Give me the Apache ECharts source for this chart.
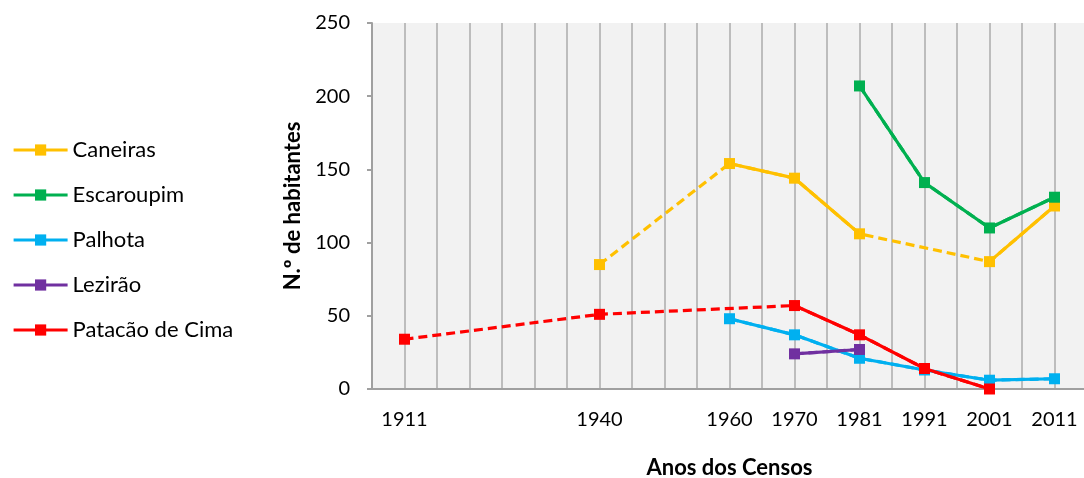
<!DOCTYPE html>
<html>
<head>
<meta charset="utf-8">
<script src="https://cdn.jsdelivr.net/npm/echarts@6/dist/echarts.min.js"></script>
<style>
  html, body { margin: 0; padding: 0; background: #fff; }
  #chart { width: 1084px; height: 478px; }
</style>
</head>
<body>
<div id="chart"></div>
<script>
// census years (one category per slot on the axis) and the labels shown under them
const years = ['1911', '1920', '1930', '1940', '1950', '1960', '1970', '1981', '1991', '2001', '2011']
const tickLabels = ['1911', '', '', '1940', '', '1960', '1970', '1981', '1991', '2001', '2011']

const names = ['Caneiras', 'Escaroupim', 'Palhota', 'Lezirão', 'Patacão de Cima']
const colors = ['#ffc000', '#00b050', '#00b0f0', '#7030a0', '#ff0000']

const caneiras   = [null, null, null, 85, null, 154, 144, 106, null, 87, 125]
const escaroupim = [null, null, null, null, null, null, null, 207, 141, 110, 131]
const palhota    = [null, null, null, null, null, 48, 37, 21, 13, 6, 7]
const lezirao    = [null, null, null, null, null, null, 24, 27, null, null, null]
const patacao    = [34, null, null, 51, null, null, 57, 37, 14, 0, null]

const values = [caneiras, escaroupim, palhota, lezirao, patacao]
const font = 'Lato'

// solid lines between consecutive censuses, dashed where a census is missing
const solid = names.map((name, i) => ({
  name, type: 'line', data: values[i], connectNulls: false,
  symbol: 'rect', symbolSize: 11, z: 3,
  lineStyle: { width: 3.2, color: colors[i] },
  itemStyle: { color: colors[i] },
}))
const dashed = names.map((name, i) => ({
  name, type: 'line', data: values[i], connectNulls: true,
  symbol: 'none', showSymbol: false, z: 2,
  lineStyle: { width: 3.2, color: colors[i], type: [9, 5] },
  itemStyle: { color: colors[i] },
}))

const chart = echarts.init(document.getElementById('chart'))
chart.setOption({
  animation: false,
  legend: {
    data: names, orient: 'vertical', left: 12, top: 139, padding: 0,
    itemWidth: 54, itemHeight: 14, itemGap: 23,
    textStyle: { fontFamily: font, fontSize: 22, color: '#000' },
    lineStyle: { type: 'solid', width: 3.2 },
  },
  grid: {
    left: 372, top: 23, width: 715, height: 366, outerBoundsMode: 'none',
    show: true, backgroundColor: '#f2f2f2', borderWidth: 0,
  },
  xAxis: [
    {
      type: 'category', data: years, boundaryGap: true,
      name: 'Anos dos Censos', nameLocation: 'middle', nameGap: 68,
      nameTextStyle: { fontFamily: font, fontSize: 22, fontWeight: 'bold', color: '#000' },
      axisLine: { lineStyle: { color: '#a0a0a0', width: 2 } },
      axisTick: { interval: 0, length: 6, lineStyle: { color: '#a0a0a0', width: 2 } },
      axisLabel: {
        interval: 0, margin: 21, fontFamily: font, fontSize: 20, color: '#000',
        formatter: (v, i) => tickLabels[i],
      },
      splitLine: { show: false },
    },
    {
      // finer slots, only used for the vertical grid lines
      type: 'category', position: 'top', boundaryGap: true,
      data: Array.from({ length: years.length * 2 }, (_, i) => i),
      axisLine: { show: false }, axisTick: { show: false }, axisLabel: { show: false },
      splitLine: { show: true, interval: 0, lineStyle: { color: '#bdbdbd', width: 2 } },
    },
  ],
  yAxis: {
    type: 'value', min: 0, max: 250, interval: 50,
    name: 'N.º de habitantes', nameLocation: 'middle', nameRotate: 90, nameGap: 66,
    nameTextStyle: { fontFamily: font, fontSize: 22, fontWeight: 'bold', color: '#000' },
    axisLine: { show: true, lineStyle: { color: '#a0a0a0', width: 2 } },
    axisTick: { show: true, length: 5, lineStyle: { color: '#a0a0a0', width: 2 } },
    axisLabel: { margin: 22, fontFamily: font, fontSize: 20, color: '#000' },
    splitLine: { show: false },
  },
  series: [...solid, ...dashed],
})
</script>
</body>
</html>
